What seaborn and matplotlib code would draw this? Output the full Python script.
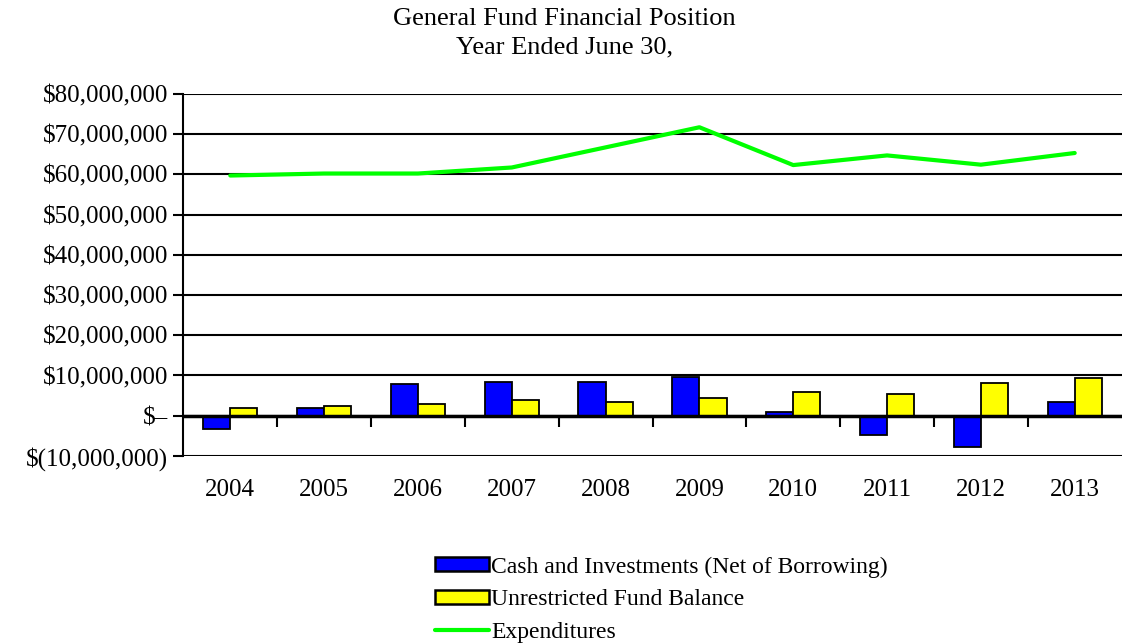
import matplotlib
matplotlib.use("Agg")
import matplotlib.pyplot as plt
from matplotlib.ticker import FuncFormatter, MultipleLocator
from matplotlib.patches import Patch
from matplotlib.lines import Line2D
import seaborn as sns
import pandas as pd
import numpy as np

years = ["2004", "2005", "2006", "2007", "2008", "2009", "2010", "2011", "2012", "2013"]
cash = [-3.3e6, 1.8e6, 7.8e6, 8.3e6, 8.3e6, 9.7e6, 0.8e6, -4.7e6, -7.7e6, 3.3e6]
fund_balance = [1.8e6, 2.3e6, 2.8e6, 3.8e6, 3.3e6, 4.3e6, 5.8e6, 5.3e6, 8.2e6, 9.3e6]
expenditures = [59.7e6, 60.2e6, 60.2e6, 61.7e6, 66.7e6, 71.7e6, 62.3e6, 64.7e6, 62.4e6, 65.3e6]

cash_label = "Cash and Investments (Net of Borrowing)"
fund_label = "Unrestricted Fund Balance"
exp_label = "Expenditures"

df = pd.DataFrame({
    "year": years * 2,
    "value": cash + fund_balance,
    "series": [cash_label] * len(years) + [fund_label] * len(years),
})

sns.set_style("white")
plt.rcParams["font.family"] = ["Liberation Serif", "DejaVu Serif"]
plt.rcParams["text.color"] = "black"
plt.rcParams["xtick.color"] = "black"
plt.rcParams["ytick.color"] = "black"

fig = plt.figure(figsize=(11.25, 6.43), dpi=100)
ax = fig.add_axes([0.163, 0.291, 0.834, 0.563])

sns.barplot(data=df, x="year", y="value", hue="series",
            palette={cash_label: "#0000FF", fund_label: "#FFFF00"},
            saturation=1, width=0.58, edgecolor="black", linewidth=1.3,
            legend=False, ax=ax, zorder=3)
sns.lineplot(x=np.arange(len(years)), y=expenditures, color="#00FF00",
             linewidth=3, ax=ax, zorder=4)

ax.set_ylim(-10e6, 80e6)
ax.set_xlim(-0.5, len(years) - 0.5)
ax.yaxis.set_major_locator(MultipleLocator(10e6))


def money(v, pos):
    if abs(v) < 1:
        return "$\u2013"
    if v < 0:
        return "$({:,.0f})".format(-v)
    return "${:,.0f}".format(v)


ax.yaxis.set_major_formatter(FuncFormatter(money))
ax.grid(axis="y", color="black", linewidth=1.5, zorder=0)
ax.set_axisbelow(True)
ax.axhline(0, color="black", linewidth=2.5, zorder=5)

for side in ["top", "right", "bottom"]:
    ax.spines[side].set_visible(False)
ax.spines["left"].set_color("black")
ax.spines["left"].set_linewidth(1.5)

ax.tick_params(axis="y", left=True, direction="out", length=7, width=1.5,
               labelsize=18, pad=4)
ax.tick_params(axis="x", bottom=False, labelsize=18, pad=13)
ax.set_xlabel("")
ax.set_ylabel("")

# category boundary ticks on the zero line
sec = ax.secondary_xaxis(10 / 90)
sec.set_xticks(np.arange(len(years) - 1) + 0.5)
sec.set_xticklabels([])
sec.tick_params(direction="out", length=8, width=1.5)
sec.spines["bottom"].set_visible(False)

fig.suptitle("General Fund Financial Position\nYear Ended June 30,",
             x=0.502, y=0.988, fontsize=19, linespacing=1.4)

handles = [
    Patch(facecolor="#0000FF", edgecolor="black", linewidth=1.8, label=cash_label),
    Patch(facecolor="#FFFF00", edgecolor="black", linewidth=1.8, label=fund_label),
    Line2D([0], [0], color="#00FF00", linewidth=3, label=exp_label),
]
fig.legend(handles=handles, loc="upper left", bbox_to_anchor=(0.376, 0.153),
           frameon=False, fontsize=17, handlelength=2.3, handleheight=0.55,
           handletextpad=0.1, labelspacing=0.5, borderpad=0)

fig.savefig("out.png", dpi=100)
